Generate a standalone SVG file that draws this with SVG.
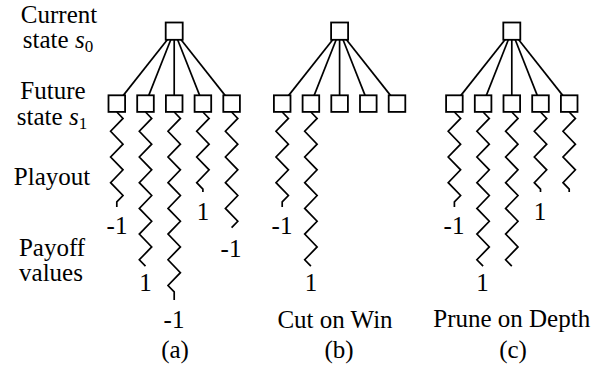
<svg xmlns="http://www.w3.org/2000/svg" xmlns:xlink="http://www.w3.org/1999/xlink" width="602" height="368" viewBox="0 0 602 368">
<style>
.box{fill:#fff;stroke:#000;stroke-width:1.8}
.edge{stroke:#000;stroke-width:1.7;fill:none}
.zz{stroke:#000;stroke-width:1.7;fill:none;stroke-linejoin:miter}
text{font-family:'Liberation Serif','Times New Roman',serif;font-size:25px;fill:#000;text-anchor:middle}
.m{font-style:italic}
.sub{font-size:17px}
</style>
<defs>
<path id="zD" d="M0 0 l6.2 6.425 l-12.4 12.85 l12.4 12.85 l-12.4 12.85 l12.4 12.85 l-12.4 12.85 l6.2 6.425 V80"/>
<path id="zA" d="M0 0 l6.2 6.425 l-12.4 12.85 l12.4 12.85 l-12.4 12.85 l12.4 12.85 l-12.4 12.85 l12.4 12.85 l-6.2 6.425 V95"/>
<path id="zE" d="M0 0 l6.2 6.425 l-12.4 12.85 l12.4 12.85 l-12.4 12.85 l12.4 12.85 l-12.4 12.85 l12.4 12.85 l-12.4 12.85 l12.4 12.85 l-6.2 6.425"/>
<path id="zB" d="M0 0 l6.2 6.425 l-12.4 12.85 l12.4 12.85 l-12.4 12.85 l12.4 12.85 l-12.4 12.85 l12.4 12.85 l-12.4 12.85 l12.4 12.85 l-12.4 12.85 l12.4 12.85 l-12.4 12.85 l6.2 6.425"/>
<path id="zC" d="M0 0 l6.2 6.425 l-12.4 12.85 l12.4 12.85 l-12.4 12.85 l12.4 12.85 l-12.4 12.85 l12.4 12.85 l-12.4 12.85 l12.4 12.85 l-12.4 12.85 l12.4 12.85 l-12.4 12.85 l12.4 12.85 l-12.4 12.85 l6.2 6.425 V188"/>
</defs>

<g id="labels-left">
<text x="59" y="23">Current</text>
<text x="58" y="48">state <tspan class="m">s</tspan><tspan class="sub" dy="4">0</tspan></text>
<text x="53" y="99">Future</text>
<text x="52" y="125">state <tspan class="m">s</tspan><tspan class="sub" dy="4">1</tspan></text>
<text x="52" y="185">Playout</text>
<text x="52" y="256">Payoff</text>
<text x="51" y="281">values</text>
</g>

<g id="connectors">
<g class="edge">
<line x1="174.2" y1="31" x2="116.8" y2="103.6"/>
<line x1="174.2" y1="31" x2="145.5" y2="103.6"/>
<line x1="174.2" y1="31" x2="174.2" y2="103.6"/>
<line x1="174.2" y1="31" x2="202.9" y2="103.6"/>
<line x1="174.2" y1="31" x2="231.6" y2="103.6"/>
<line x1="339.6" y1="31" x2="282.2" y2="103.6"/>
<line x1="339.6" y1="31" x2="310.9" y2="103.6"/>
<line x1="339.6" y1="31" x2="339.6" y2="103.6"/>
<line x1="339.6" y1="31" x2="368.3" y2="103.6"/>
<line x1="339.6" y1="31" x2="397.0" y2="103.6"/>
<line x1="511.8" y1="31" x2="454.4" y2="103.6"/>
<line x1="511.8" y1="31" x2="483.1" y2="103.6"/>
<line x1="511.8" y1="31" x2="511.8" y2="103.6"/>
<line x1="511.8" y1="31" x2="540.5" y2="103.6"/>
<line x1="511.8" y1="31" x2="569.2" y2="103.6"/>
</g>
<g class="zz">
<use xlink:href="#zA" x="116.8" y="112"/>
<use xlink:href="#zB" x="145.5" y="112"/>
<use xlink:href="#zC" x="174.2" y="112"/>
<use xlink:href="#zD" x="202.9" y="112"/>
<use xlink:href="#zE" x="231.6" y="112"/>
<use xlink:href="#zA" x="282.2" y="112"/>
<use xlink:href="#zB" x="310.9" y="112"/>
<use xlink:href="#zA" x="454.4" y="112"/>
<use xlink:href="#zB" x="483.1" y="112"/>
<use xlink:href="#zB" x="511.8" y="112"/>
<use xlink:href="#zD" x="540.5" y="112"/>
<use xlink:href="#zD" x="569.2" y="112"/>
</g>
</g>

<g id="tree-a">
<rect id="a-root" class="box" x="165.7" y="22.5" width="17" height="17.3"/>
<rect id="a-s1" class="box" x="108.5" y="95.3" width="16.6" height="16.6"/>
<rect id="a-s2" class="box" x="137.2" y="95.3" width="16.6" height="16.6"/>
<rect id="a-s3" class="box" x="165.9" y="95.3" width="16.6" height="16.6"/>
<rect id="a-s4" class="box" x="194.6" y="95.3" width="16.6" height="16.6"/>
<rect id="a-s5" class="box" x="223.3" y="95.3" width="16.6" height="16.6"/>
<text x="117" y="234">-1</text>
<text x="145.5" y="291">1</text>
<text x="174" y="328">-1</text>
<text x="203" y="220">1</text>
<text x="231" y="257">-1</text>
<text x="175" y="358">(a)</text>
</g>

<g id="tree-b">
<rect id="b-root" class="box" x="331.1" y="22.5" width="17" height="17.3"/>
<rect id="b-s1" class="box" x="273.9" y="95.3" width="16.6" height="16.6"/>
<rect id="b-s2" class="box" x="302.6" y="95.3" width="16.6" height="16.6"/>
<rect id="b-s3" class="box" x="331.3" y="95.3" width="16.6" height="16.6"/>
<rect id="b-s4" class="box" x="360.0" y="95.3" width="16.6" height="16.6"/>
<rect id="b-s5" class="box" x="388.7" y="95.3" width="16.6" height="16.6"/>
<text x="282" y="234">-1</text>
<text x="311" y="291">1</text>
<text x="335" y="328">Cut on Win</text>
<text x="339" y="358">(b)</text>
</g>

<g id="tree-c">
<rect id="c-root" class="box" x="503.3" y="22.5" width="17" height="17.3"/>
<rect id="c-s1" class="box" x="446.1" y="95.3" width="16.6" height="16.6"/>
<rect id="c-s2" class="box" x="474.8" y="95.3" width="16.6" height="16.6"/>
<rect id="c-s3" class="box" x="503.5" y="95.3" width="16.6" height="16.6"/>
<rect id="c-s4" class="box" x="532.2" y="95.3" width="16.6" height="16.6"/>
<rect id="c-s5" class="box" x="560.9" y="95.3" width="16.6" height="16.6"/>
<text x="454" y="234">-1</text>
<text x="482.5" y="291">1</text>
<text x="540" y="220">1</text>
<text x="511.7" y="327">Prune on Depth</text>
<text x="513" y="358">(c)</text>
</g>
</svg>
